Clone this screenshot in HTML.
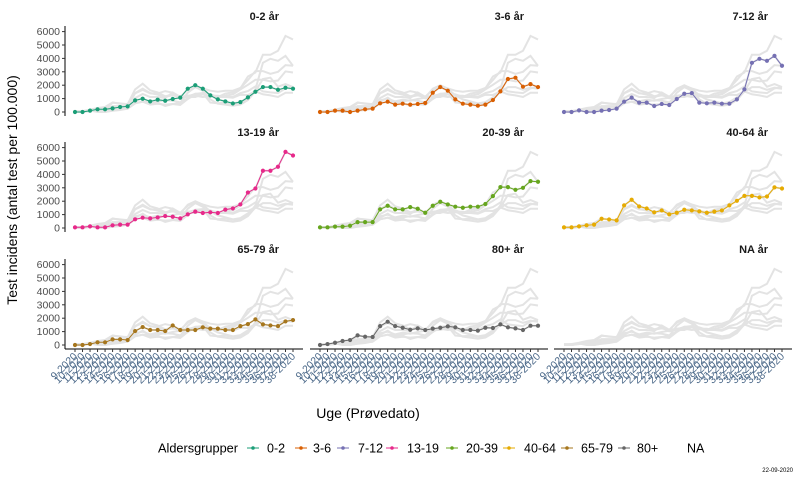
<!DOCTYPE html>
<html><head><meta charset="utf-8"><style>
html,body{margin:0;padding:0;background:#fff}
svg{display:block;font-family:"Liberation Sans",sans-serif}
</style></head><body>
<svg id="chart" width="800" height="480" viewBox="0 0 800 480" xmlns="http://www.w3.org/2000/svg">
<text x="0" y="0" transform="translate(17,190) rotate(-90)" text-anchor="middle" font-size="14" fill="#000">Test incidens (antal test per 100.000)</text>
<text x="368" y="418" text-anchor="middle" font-size="14" fill="#000">Uge (Prøvedato)</text>
<text x="793" y="472" text-anchor="end" font-size="6" fill="#000">22-09-2020</text>
<g id="panels"></g>
<g id="legend"></g>
</svg>
<script>
const groups = ["0-2","3-6","7-12","13-19","20-39","40-64","65-79","80+","NA"];
const colors = ["#1B9E77","#D95F02","#7570B3","#E7298A","#66A61E","#E6AB02","#A6761D","#666666"];
const weeks = ["9-2020","10-2020","11-2020","12-2020","13-2020","14-2020","15-2020","16-2020","17-2020","18-2020","19-2020","20-2020","21-2020","22-2020","23-2020","24-2020","25-2020","26-2020","27-2020","28-2020","29-2020","30-2020","31-2020","32-2020","33-2020","34-2020","35-2020","36-2020","37-2020","38-2020"];
const yTicks = [0,1000,2000,3000,4000,5000,6000];
const s0_2 = [0,0,100,200,200,270,370,420,870,990,790,920,840,970,1070,1740,2000,1740,1240,940,790,640,740,1090,1510,1860,1860,1660,1810,1740];
const s3_6 = [0,0,100,100,0,100,200,250,650,770,550,620,550,600,670,1440,1860,1590,940,620,550,470,550,890,1540,2460,2560,1890,2080,1860];
const s7_12 = [0,0,120,0,0,100,150,250,770,1070,700,700,450,600,520,970,1360,1410,700,650,700,620,620,940,1690,3670,3970,3820,4190,3450];
const s13_19 = [50,50,120,50,50,200,250,250,650,770,720,790,890,840,720,1020,1220,1120,1170,1120,1370,1460,1760,2650,2950,4270,4270,4570,5680,5410];
const s20_39 = [50,50,100,100,170,440,440,440,1390,1660,1390,1390,1560,1440,1140,1660,1960,1760,1590,1510,1590,1590,1790,2380,3050,3050,2850,3000,3500,3450];
const s40_64 = [50,50,120,200,250,690,640,570,1690,2110,1610,1460,1170,1310,1020,1140,1360,1310,1240,1140,1220,1310,1690,2030,2400,2400,2280,2350,3030,2950];
const s65_79 = [0,0,70,200,200,420,420,370,1040,1340,1120,1120,1040,1460,1120,1120,1120,1320,1220,1220,1120,1120,1410,1560,1910,1540,1460,1410,1760,1860];
const s80 = [0,70,170,300,370,720,620,600,1410,1740,1410,1290,1140,1240,1120,1220,1290,1390,1320,1120,1120,1070,1290,1270,1540,1320,1240,1120,1440,1440];
const series = [s0_2,s3_6,s7_12,s13_19,s20_39,s40_64,s65_79,s80];

const NS = "http://www.w3.org/2000/svg";
const panelLeft = [65,310,554], panelW = 238, zeroY = [112,228,345], pxPer1000 = 13.4;
function el(tag, attrs, parent){const e=document.createElementNS(NS,tag);for(const k in attrs)e.setAttribute(k,attrs[k]);parent.appendChild(e);return e;}
function xScale(col,i){return panelLeft[col]+10+i*(218/(weeks.length-1));}
function yScale(row,v){return zeroY[row]-v/1000*pxPer1000;}
const root=document.getElementById('panels');
groups.forEach((g,idx)=>{
  const row=Math.floor(idx/3), col=idx%3;
  const p=el('g',{},root);
  
  
  const t=el('text',{x:panelLeft[col]+panelW-24,y:zeroY[row]-92,'text-anchor':'end','font-size':'11','font-weight':'bold',fill:'#1a1a1a'},p);
  t.textContent=g+' år';
  
  
  series.forEach((s,k)=>{
    const d=s.map((v,i)=>(i?'L':'M')+xScale(col,i).toFixed(1)+','+yScale(row,v).toFixed(1)).join('');
    const bl=el('path',{d:d,fill:'none',stroke:'#e3e3e3','stroke-width':'2'},p);
    
    
  });
  if(idx<series.length){
    const s=series[idx];
    const d=s.map((v,i)=>(i?'L':'M')+xScale(col,i).toFixed(1)+','+yScale(row,v).toFixed(1)).join('');
    const ln=el('path',{d:d,fill:'none',stroke:colors[idx],'stroke-width':'1'},p);
    
    
    s.forEach((v,i)=>{
      const c=el('circle',{cx:xScale(col,i),cy:yScale(row,v),r:'2.1',fill:colors[idx]},p);
      
      
    });
  }
  if(col===0){
    el('line',{x1:65,x2:65,y1:zeroY[row]-86,y2:zeroY[row]+4,stroke:'#000','stroke-width':'1'},p);
    yTicks.forEach(v=>{
      const y=yScale(row,v);
      el('line',{x1:62,x2:65,y1:y,y2:y,stroke:'#333'},p);
      const tl=el('text',{x:60,y:y+3.5,'text-anchor':'end','font-size':'10.5',fill:'#4D4D4D'},p);
      tl.textContent=v;
      
      
    });
  }
  if(row===2){
    el('line',{x1:panelLeft[col],x2:panelLeft[col]+panelW,y1:349,y2:349,stroke:'#000'},p);
    weeks.forEach((w,i)=>{
      const x=xScale(col,i);
      el('line',{x1:x,x2:x,y1:349,y2:352,stroke:'#333'},p);
      const xl=el('text',{transform:'translate('+(x+3)+',357) rotate(-45)','text-anchor':'end','font-size':'10.5',fill:'#4D6A8A'},p);
      xl.textContent=w;
      
      
    });
  }
});
const lg=document.getElementById('legend');
const lt=el('text',{x:158,y:452.5,'font-size':'12.5',fill:'#000',textLength:'80',lengthAdjust:'spacingAndGlyphs'},lg);
lt.textContent='Aldersgrupper';


const keyX=[253,301,343,392,452,509,567,624];
const labX=[267,313,358,407,466,524,581,637];
groups.forEach((g,k)=>{
  const e=el('g',{},lg);
  
  
  if(k<8){
    el('line',{x1:keyX[k]-6,x2:keyX[k]+6,y1:448,y2:448,stroke:colors[k],'stroke-width':'1'},e);
    el('circle',{cx:keyX[k],cy:448,r:'1.8',fill:colors[k]},e);
    const tx=el('text',{x:labX[k],y:452.5,'font-size':'12.5',fill:'#000'},e);
    tx.textContent=g;
  } else {
    const tx=el('text',{x:687,y:452.5,'font-size':'12.5',fill:'#000'},e);
    tx.textContent=g;
  }
});
</script>
</body></html>
